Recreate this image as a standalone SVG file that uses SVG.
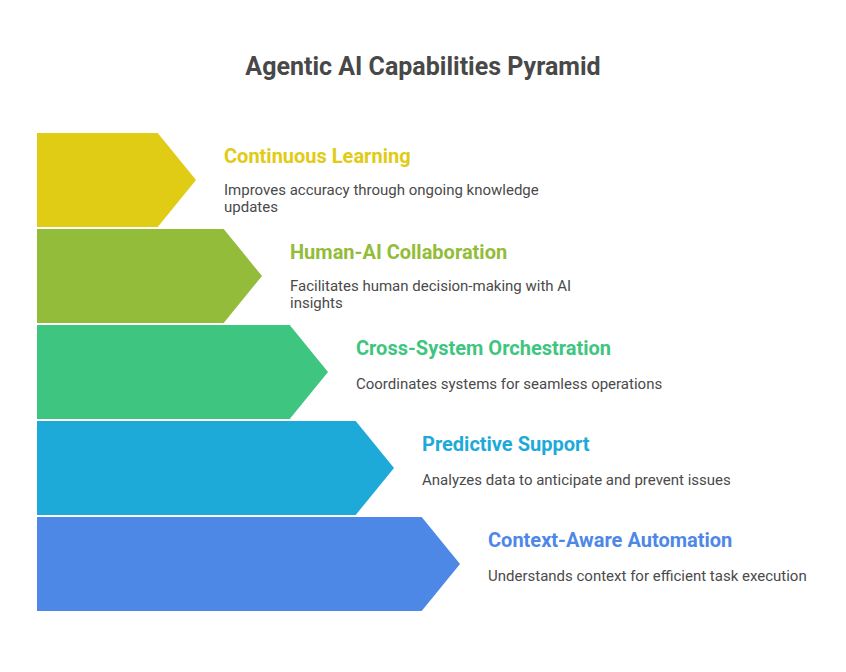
<svg xmlns="http://www.w3.org/2000/svg" width="846" height="672" viewBox="0 0 846 672">
<style>
.t{font-family:Roboto,"Liberation Sans",sans-serif;font-weight:bold;font-size:20px}
.d{font-family:Roboto,"Liberation Sans",sans-serif;font-size:15px;fill:#4a4a4a}
.h{font-family:Roboto,"Liberation Sans",sans-serif;font-weight:bold;font-size:25px;fill:#484848}
</style>
<rect width="846" height="672" fill="#ffffff"/>
<text class="h" x="423" y="75" text-anchor="middle">Agentic AI Capabilities Pyramid</text>
<g id="continuous-learning">
<polygon points="37,133 157.7,133 196,180 157.7,227 37,227" fill="#E0CB15"/>
<text class="t" x="224" y="162.5" fill="#E0CB15">Continuous Learning</text>
<text class="d" x="224" y="194.5">Improves accuracy through ongoing knowledge</text>
<text class="d" x="224" y="212">updates</text>
</g>
<g id="human-ai-collaboration">
<polygon points="37,229 223.7,229 262,276 223.7,323 37,323" fill="#93BC3A"/>
<text class="t" x="290" y="258.5" fill="#93BC3A">Human-AI Collaboration</text>
<text class="d" x="290" y="290.5">Facilitates human decision-making with AI</text>
<text class="d" x="290" y="308">insights</text>
</g>
<g id="cross-system-orchestration">
<polygon points="37,325 289.7,325 328,372 289.7,419 37,419" fill="#3EC57F"/>
<text class="t" x="356" y="354.5" fill="#3EC57F">Cross-System Orchestration</text>
<text class="d" x="356" y="388.5">Coordinates systems for seamless operations</text>
</g>
<g id="predictive-support">
<polygon points="37,421 355.7,421 394,468 355.7,515 37,515" fill="#1EAAD9"/>
<text class="t" x="422" y="450.5" fill="#1EAAD9">Predictive Support</text>
<text class="d" x="422" y="484.5">Analyzes data to anticipate and prevent issues</text>
</g>
<g id="context-aware-automation">
<polygon points="37,517 421.7,517 460,564 421.7,611 37,611" fill="#4E88E7"/>
<text class="t" x="488" y="546.5" fill="#4E88E7">Context-Aware Automation</text>
<text class="d" x="488" y="580.5">Understands context for efficient task execution</text>
</g>
<g id="connectors"/>
</svg>
